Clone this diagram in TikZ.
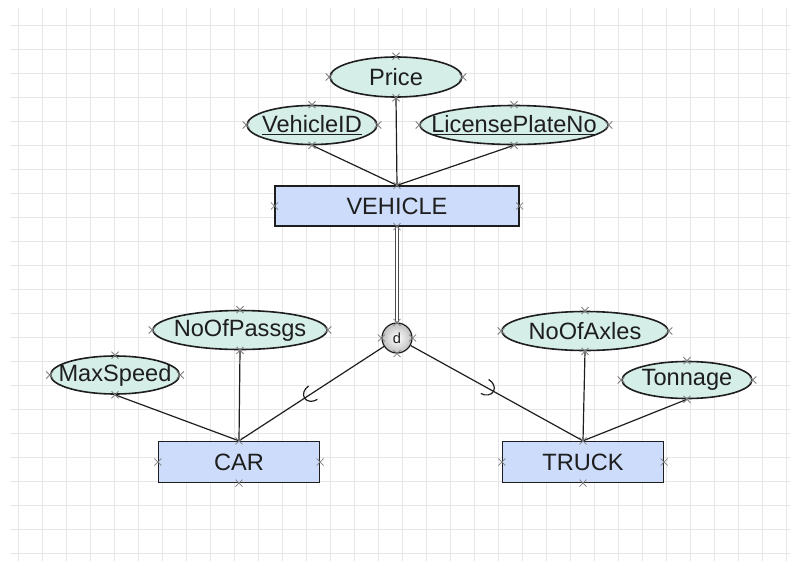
\documentclass[tikz,border=0pt]{standalone}
\usepackage{fontspec}
\setmainfont{Liberation Sans}
\usetikzlibrary{shapes.geometric,calc,decorations.markings}
\definecolor{entfill}{HTML}{CCDCFA}
\definecolor{attrfill}{HTML}{D6EEE8}
\definecolor{gridgray}{HTML}{E6E6E6}
\definecolor{markgray}{HTML}{7F7F7F}
\definecolor{inkcol}{HTML}{1E1E1E}
\tikzstyle{gridline}=[draw=gridgray, line width=0.7pt]
\tikzstyle{entity}=[rectangle, draw=inkcol, fill=entfill, line width=1pt, inner sep=0pt, text=inkcol, font=\fontsize{17.7}{20}\selectfont]
\tikzstyle{attr}=[ellipse, draw=inkcol, fill=attrfill, line width=1.2pt, inner sep=0pt, text=inkcol, font=\fontsize{17.7}{20}\selectfont, execute at begin node={\hbox to 0pt\bgroup\hss}, execute at end node={\hss\egroup}]
\tikzstyle{disjoint}=[circle, draw=inkcol, inner color=white, outer color=black!25, line width=0.9pt, minimum size=22.5pt, inner sep=0pt, text=inkcol, font=\fontsize{11}{12}\selectfont]
\tikzstyle{link}=[draw=inkcol, line width=0.9pt]
\tikzstyle{dbl}=[draw=black!70, line width=0.6pt, double=white, double distance=1.5pt]
\tikzstyle{subsetmark}=[postaction={decorate}, decoration={markings, mark=at position 71pt with {\draw[line width=0.9pt] (-7.5pt,6pt) arc[start angle=90, end angle=-90, x radius=7.5pt, y radius=6pt];}}]
\tikzstyle{conmark}=[draw=markgray, line width=0.6pt]

\begin{document}
\begin{tikzpicture}[x=0.75pt, y=-0.75pt]
\useasboundingbox (0,0) rectangle (790,561);
\foreach \gx in {18,42,...,786} \draw[gridline] (\gx,8) -- (\gx,561);
\foreach \gy in {25,49,...,553} \draw[gridline] (10,\gy) -- (790,\gy);

\node[entity, minimum width=183pt, minimum height=30pt] (vehicle) at (397,206) {VEHICLE};
\node[attr, minimum width=99pt, minimum height=30pt] (price) at ($(vehicle)+(-1,-129)$) {Price};
\node[attr, minimum width=97.5pt, minimum height=29.25pt] (vid) at ($(vehicle)+(-85,-81)$) {\underline{VehicleID}};
\node[attr, minimum width=141pt, minimum height=29.25pt] (lpn) at ($(vehicle)+(117,-81)$) {\underline{LicensePlateNo}};
\node[disjoint] (disj) at ($(vehicle)+(0,132)$) {d};

\node[entity, minimum width=120.75pt, minimum height=30.75pt] (car) at (239,462) {CAR};
\node[attr, minimum width=130.5pt, minimum height=29.25pt] (passgs) at ($(car)+(1,-132)$) {NoOfPassgs};
\node[attr, minimum width=96.75pt, minimum height=28.5pt] (speed) at ($(car)+(-124,-87)$) {MaxSpeed};

\node[entity, minimum width=120.75pt, minimum height=30.75pt] (truck) at (583,462) {TRUCK};
\node[attr, minimum width=124.5pt, minimum height=29.25pt] (axles) at ($(truck)+(2,-131)$) {NoOfAxles};
\node[attr, minimum width=97.5pt, minimum height=27.75pt] (tonnage) at ($(truck)+(104,-82)$) {Tonnage};

\draw[link] (vid.south) -- (vehicle.north);
\draw[link] (price.south) -- (vehicle.north);
\draw[link] (lpn.south) -- (vehicle.north);
\draw[dbl] (vehicle.south) -- (disj);
\draw[link, subsetmark] (disj) -- (car.north);
\draw[link, subsetmark] (disj) -- (truck.north);
\draw[link] (speed.south) -- (car.north);
\draw[link] (passgs.south) -- (car.north);
\draw[link] (axles.south) -- (truck.north);
\draw[link] (tonnage.south) -- (truck.north);

\foreach \n in {vehicle,price,vid,lpn,disj,car,passgs,speed,truck,axles,tonnage}
  \foreach \a in {north,south,east,west}
    \draw[conmark] (\n.\a) +(-3.5,-3.5) -- +(3.5,3.5) +(-3.5,3.5) -- +(3.5,-3.5);
\end{tikzpicture}
\end{document}
